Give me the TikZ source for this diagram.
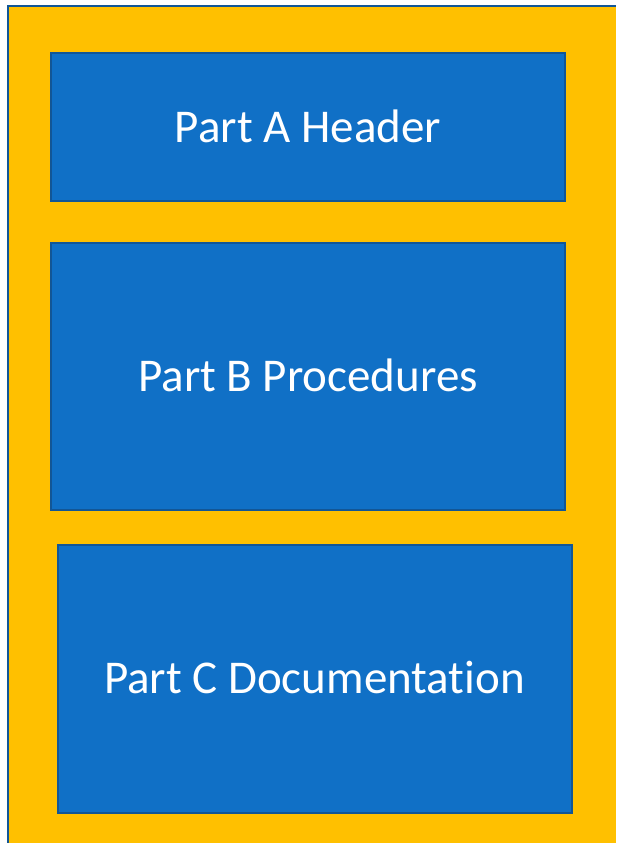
\documentclass[tikz,border=0pt]{standalone}
\usepackage{fontspec}
\setmainfont{Carlito}[Ligatures=NoCommon]
\definecolor{frameorange}{RGB}{255,192,0}
\definecolor{partblue}{RGB}{16,112,198}
\definecolor{edgeblue}{RGB}{18,86,150}

\begin{document}
\begin{tikzpicture}[x=1pt,y=-1pt]
\tikzstyle{every node}=[rectangle, draw=edgeblue, line width=2pt, fill=partblue, text=white, inner sep=0pt, text depth=2pt, font=\fontsize{47}{54}\selectfont]
\useasboundingbox (0,0) rectangle (616,843);
% outer frame runs off the right and bottom edges
\fill[frameorange] (8,6) rectangle (616,843);
\draw[edgeblue, line width=2pt] (8,843) -- (8,6) -- (616,6);
\node (partA) at (308,127) [minimum width=514pt, minimum height=148pt] {Part A Header};
\node (partB) at (308,376.5) [minimum width=514pt, minimum height=267pt] {Part B Procedures};
\node (partC) at (314.5,678.5) [minimum width=514pt, minimum height=268pt] {Part C Documentation};
\end{tikzpicture}
\end{document}
